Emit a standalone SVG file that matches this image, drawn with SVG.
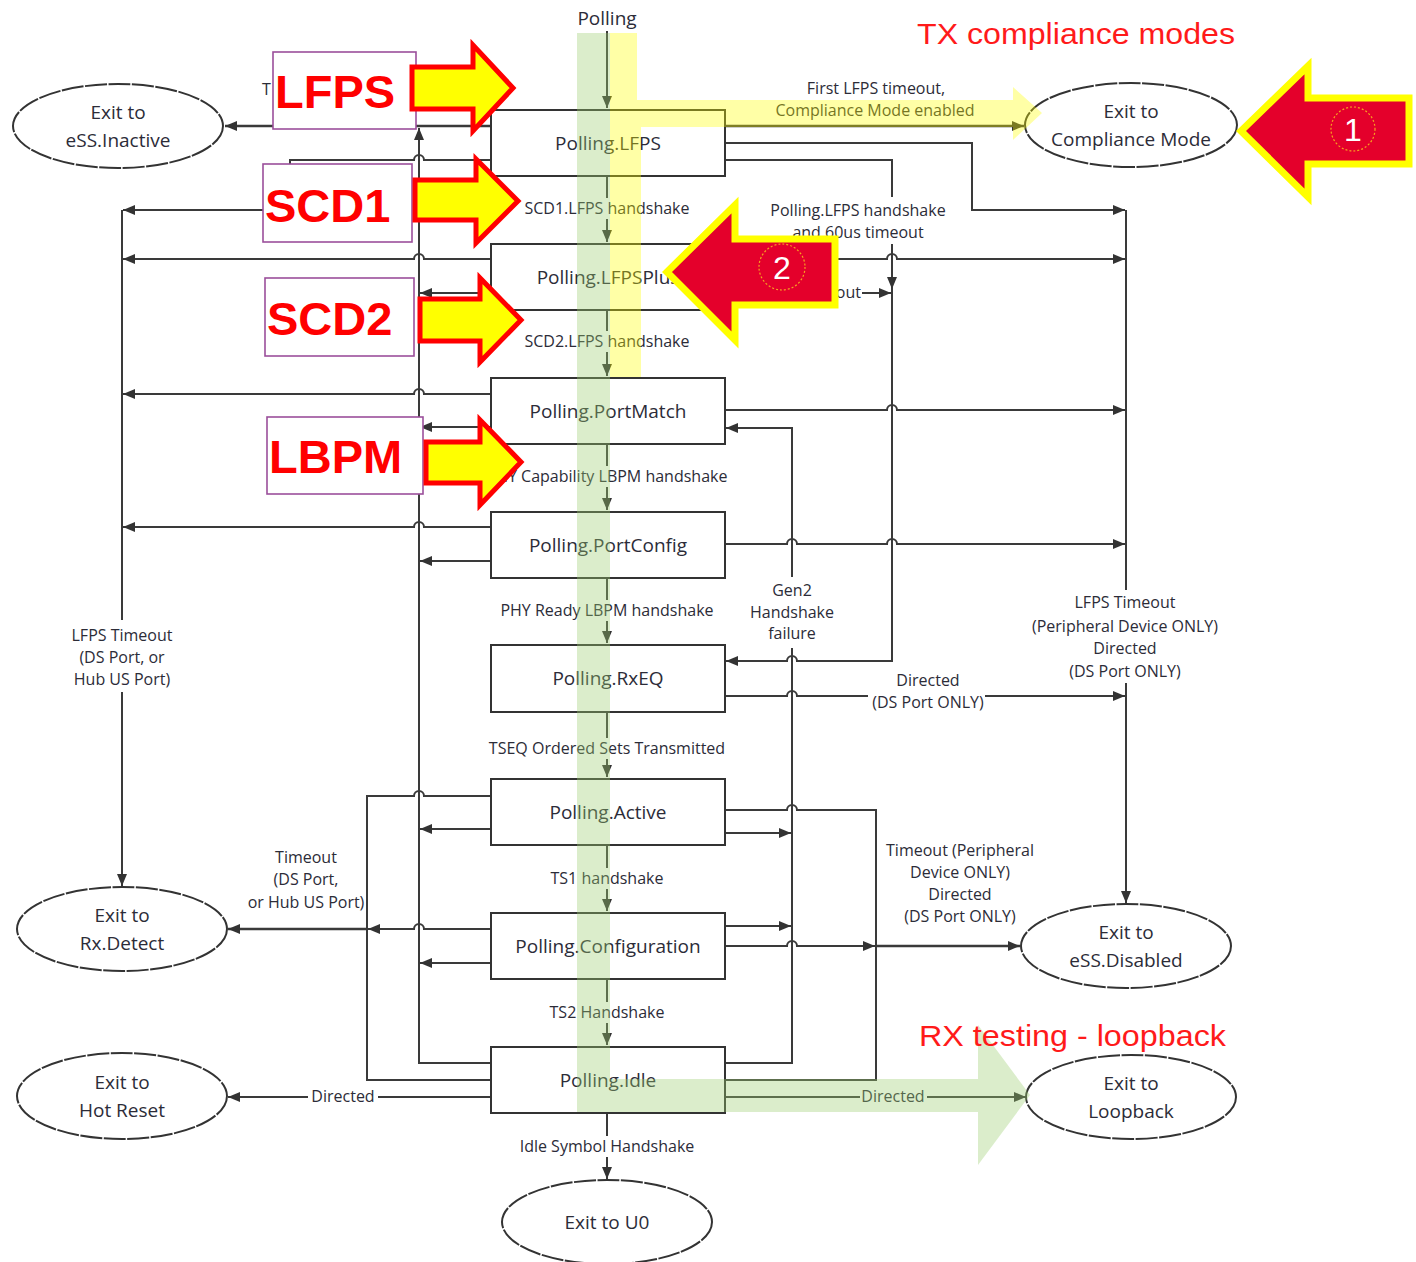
<svg xmlns="http://www.w3.org/2000/svg" width="1416" height="1262" viewBox="0 0 1416 1262">
<style>
.bx{fill:#fff;stroke:#333;stroke-width:2}
.el{fill:#fff;stroke:#333;stroke-width:2;stroke-dasharray:22 1.5}
.ln{fill:none;stroke:#3a3a3a;stroke-width:2}
.th{stroke-width:2.6}
.t{font-family:"Open Sans","Noto Sans",sans-serif;fill:#2c2c38;text-anchor:middle}
.nl{font-size:19px}
.sl{font-size:16px}
.red{font-family:"Liberation Sans",Arial,sans-serif;fill:#ff1a1a;font-size:29px}
.big{font-family:"Liberation Sans",Arial,sans-serif;font-weight:bold;fill:#ff0000;font-size:47px}
.lb{fill:#fff;stroke:#9b4f9b;stroke-width:1.6}
.ya{fill:#ffff00;stroke:#ff0000;stroke-width:5;stroke-linejoin:miter}
.ra{fill:#e4002b;stroke:#ffff00;stroke-width:7;stroke-linejoin:miter}
</style>
<defs>
<marker id="a" viewBox="0 0 12 10" refX="12" refY="5" markerWidth="12" markerHeight="10" markerUnits="userSpaceOnUse" orient="auto"><path d="M0,0 L12,5 L0,10 z" fill="#333"/></marker>
</defs>
<rect width="1416" height="1262" fill="#fff"/>

<g id="connectors">
<path class="ln" d="M607,31 V108" marker-end="url(#a)"/>
<path class="ln" d="M607,176 V198"/><path class="ln" d="M607,219 V242" marker-end="url(#a)"/>
<path class="ln" d="M607,310 V331"/><path class="ln" d="M607,352 V376" marker-end="url(#a)"/>
<path class="ln" d="M607,444 V466"/><path class="ln" d="M607,487 V510" marker-end="url(#a)"/>
<path class="ln" d="M607,578 V600"/><path class="ln" d="M607,621 V643" marker-end="url(#a)"/>
<path class="ln" d="M607,712 V738"/><path class="ln" d="M607,759 V777" marker-end="url(#a)"/>
<path class="ln" d="M607,845 V868"/><path class="ln" d="M607,889 V911" marker-end="url(#a)"/>
<path class="ln" d="M607,979 V1002"/><path class="ln" d="M607,1023 V1045" marker-end="url(#a)"/>
<path class="ln" d="M607,1113 V1136"/><path class="ln" d="M607,1157 V1179" marker-end="url(#a)"/>

<path class="ln th" d="M491,126 H225" marker-end="url(#a)"/>
<path class="ln" d="M491,1063 H419 V128" marker-end="url(#a)"/>
<path class="ln" d="M491,160 H424 A5,5 0 0 0 414,160 H290 V210 H123" marker-end="url(#a)"/>
<path class="ln" d="M122,210 V620"/>
<path class="ln" d="M122,692 V886" marker-end="url(#a)"/>
<path class="ln" d="M491,259 H424 A5,5 0 0 0 414,259 H123" marker-end="url(#a)"/>
<path class="ln" d="M491,394 H424 A5,5 0 0 0 414,394 H123" marker-end="url(#a)"/>
<path class="ln" d="M491,527 H424 A5,5 0 0 0 414,527 H123" marker-end="url(#a)"/>
<path class="ln" d="M491,293 H420" marker-end="url(#a)"/>
<path class="ln" d="M491,427 H420" marker-end="url(#a)"/>
<path class="ln" d="M491,561 H420" marker-end="url(#a)"/>
<path class="ln" d="M491,829 H420" marker-end="url(#a)"/>
<path class="ln" d="M491,963 H420" marker-end="url(#a)"/>
<path class="ln" d="M491,796 H424 A5,5 0 0 0 414,796 H367 V1080 H491"/>
<path class="ln" d="M491,929 H424 A5,5 0 0 0 414,929 H368" marker-end="url(#a)"/>
<path class="ln th" d="M367,929 H228" marker-end="url(#a)"/>
<path class="ln" d="M491,1097 H378"/>
<path class="ln" d="M308,1097 H228" marker-end="url(#a)"/>

<path class="ln th" d="M725,126 H1024" marker-end="url(#a)"/>
<path class="ln" d="M725,143 H972 V210 H1125" marker-end="url(#a)"/>
<path class="ln" d="M1126,210 V590"/>
<path class="ln" d="M1126,683 V903" marker-end="url(#a)"/>
<path class="ln" d="M725,160 H892 V197"/>
<path class="ln" d="M892,244 V289" marker-end="url(#a)"/>
<path class="ln" d="M892,289 V661 H797 A5,5 0 0 0 787,661 H726" marker-end="url(#a)"/>
<path class="ln" d="M862,293 H891" marker-end="url(#a)"/>
<path class="ln" d="M725,259 H887 A5,5 0 0 1 897,259 H1125" marker-end="url(#a)"/>
<path class="ln" d="M725,410 H887 A5,5 0 0 1 897,410 H1125" marker-end="url(#a)"/>
<path class="ln" d="M725,544 H787 A5,5 0 0 1 797,544 H887 A5,5 0 0 1 897,544 H1125" marker-end="url(#a)"/>
<path class="ln" d="M792,577 V428 H726" marker-end="url(#a)"/>
<path class="ln" d="M792,648 V1063 H725"/>
<path class="ln" d="M725,696 H787 A5,5 0 0 1 797,696 H868"/>
<path class="ln" d="M985,696 H1125" marker-end="url(#a)"/>
<path class="ln" d="M725,810 H787 A5,5 0 0 1 797,810 H876 V1080 H725"/>
<path class="ln" d="M725,833 H791" marker-end="url(#a)"/>
<path class="ln" d="M725,926 H791" marker-end="url(#a)"/>
<path class="ln" d="M725,946 H787 A5,5 0 0 1 797,946 H875" marker-end="url(#a)"/>
<path class="ln th" d="M876,946 H1020" marker-end="url(#a)"/>
<path class="ln" d="M725,1097 H860"/>
<path class="ln" d="M927,1097 H1026" marker-end="url(#a)"/>
</g>

<g id="edge-labels">
<text class="t sl" x="607" y="214">SCD1.LFPS handshake</text>
<text class="t sl" x="607" y="347">SCD2.LFPS handshake</text>
<text class="t sl" x="607" y="482">PHY Capability LBPM handshake</text>
<text class="t sl" x="607" y="616">PHY Ready LBPM handshake</text>
<text class="t sl" x="607" y="754">TSEQ Ordered Sets Transmitted</text>
<text class="t sl" x="607" y="884">TS1 handshake</text>
<text class="t sl" x="607" y="1018">TS2 Handshake</text>
<text class="t sl" x="607" y="1152">Idle Symbol Handshake</text>
<text class="t sl" x="876" y="94">First LFPS timeout,</text>
<text class="t sl" x="875" y="116">Compliance Mode enabled</text>
<text class="t sl" x="858" y="216">Polling.LFPS handshake</text>
<text class="t sl" x="858" y="238">and  60us timeout</text>
<text class="t sl" x="861" y="298" style="text-anchor:end">Timeout</text>
<text class="t sl" x="792" y="596">Gen2</text>
<text class="t sl" x="792" y="618">Handshake</text>
<text class="t sl" x="792" y="639">failure</text>
<text class="t sl" x="1125" y="608">LFPS Timeout</text>
<text class="t sl" x="1125" y="632">(Peripheral Device ONLY)</text>
<text class="t sl" x="1125" y="654">Directed</text>
<text class="t sl" x="1125" y="677">(DS Port ONLY)</text>
<text class="t sl" x="928" y="686">Directed</text>
<text class="t sl" x="928" y="708">(DS Port ONLY)</text>
<text class="t sl" x="960" y="856">Timeout (Peripheral</text>
<text class="t sl" x="960" y="878">Device ONLY)</text>
<text class="t sl" x="960" y="900">Directed</text>
<text class="t sl" x="960" y="922">(DS Port ONLY)</text>
<text class="t sl" x="122" y="641">LFPS Timeout</text>
<text class="t sl" x="122" y="663">(DS Port, or</text>
<text class="t sl" x="122" y="685">Hub US Port)</text>
<text class="t sl" x="306" y="863">Timeout</text>
<text class="t sl" x="306" y="885">(DS Port,</text>
<text class="t sl" x="306" y="908">or Hub US Port)</text>
<text class="t sl" x="343" y="1102">Directed</text>
<text class="t sl" x="893" y="1102">Directed</text>
<text class="t sl" x="262" y="95" style="text-anchor:start">T</text>
<text class="t nl" x="607" y="25">Polling</text>
</g>

<g id="n-lfps"><rect class="bx" x="491" y="110" width="234" height="66"/><text class="t nl" x="608" y="150">Polling.LFPS</text></g>
<g id="n-lfpsplus"><rect class="bx" x="491" y="244" width="234" height="66"/><text class="t nl" x="608" y="284">Polling.LFPSPlus</text></g>
<g id="n-portmatch"><rect class="bx" x="491" y="378" width="234" height="66"/><text class="t nl" x="608" y="418">Polling.PortMatch</text></g>
<g id="n-portconfig"><rect class="bx" x="491" y="512" width="234" height="66"/><text class="t nl" x="608" y="552">Polling.PortConfig</text></g>
<g id="n-rxeq"><rect class="bx" x="491" y="645" width="234" height="67"/><text class="t nl" x="608" y="685">Polling.RxEQ</text></g>
<g id="n-active"><rect class="bx" x="491" y="779" width="234" height="66"/><text class="t nl" x="608" y="819">Polling.Active</text></g>
<g id="n-config"><rect class="bx" x="491" y="913" width="234" height="66"/><text class="t nl" x="608" y="953">Polling.Configuration</text></g>
<g id="n-idle"><rect class="bx" x="491" y="1047" width="234" height="66"/><text class="t nl" x="608" y="1087">Polling.Idle</text></g>

<g id="e-inactive"><ellipse class="el" cx="118" cy="126" rx="105" ry="42"/><text class="t nl" x="118" y="119">Exit to</text><text class="t nl" x="118" y="147">eSS.Inactive</text></g>
<g id="e-compliance"><ellipse class="el" cx="1131" cy="125" rx="106" ry="42"/><text class="t nl" x="1131" y="118">Exit to</text><text class="t nl" x="1131" y="146">Compliance Mode</text></g>
<g id="e-rxdetect"><ellipse class="el" cx="122" cy="929" rx="105" ry="42"/><text class="t nl" x="122" y="922">Exit to</text><text class="t nl" x="122" y="950">Rx.Detect</text></g>
<g id="e-disabled"><ellipse class="el" cx="1126" cy="946" rx="105" ry="42"/><text class="t nl" x="1126" y="939">Exit to</text><text class="t nl" x="1126" y="967">eSS.Disabled</text></g>
<g id="e-hotreset"><ellipse class="el" cx="122" cy="1096" rx="105" ry="43"/><text class="t nl" x="122" y="1089">Exit to</text><text class="t nl" x="122" y="1117">Hot Reset</text></g>
<g id="e-loopback"><ellipse class="el" cx="1131" cy="1097" rx="105" ry="42"/><text class="t nl" x="1131" y="1090">Exit to</text><text class="t nl" x="1131" y="1118">Loopback</text></g>
<g id="e-u0"><ellipse class="el" cx="607" cy="1222" rx="105" ry="42"/><text class="t nl" x="607" y="1229">Exit to U0</text></g>

<g id="highlight-bands">
<polygon points="610,33 637,33 637,100 1013,100 1013,87 1042,113 1013,140 1013,127 641,127 641,377 610,377" fill="#ffff00" fill-opacity="0.35"/>
<polygon points="577,33 610,33 610,1079 978,1079 978,1025 1030,1095 978,1165 978,1112 577,1112" fill="#9acd6e" fill-opacity="0.36"/>
</g>

<g id="titles">
<text class="red" x="917" y="44" textLength="318" lengthAdjust="spacingAndGlyphs">TX compliance modes</text>
<text class="red" x="919" y="1046" textLength="307" lengthAdjust="spacingAndGlyphs">RX testing - loopback</text>
</g>

<g id="callout-lfps"><rect class="lb" x="273" y="52" width="143" height="77"/><polygon class="ya" points="412,67 473,67 473,45 513,88 473,131 473,109 412,109"/><text class="big" x="275" y="108">LFPS</text></g>
<g id="callout-scd1"><rect class="lb" x="263" y="164" width="149" height="78"/><polygon class="ya" points="415,180 476,180 476,159 518,201 476,243 476,220 415,220"/><text class="big" x="265" y="222">SCD1</text></g>
<g id="callout-scd2"><rect class="lb" x="265" y="278" width="149" height="78"/><polygon class="ya" points="420,299 480,299 480,278 521,320 480,362 480,341 420,341"/><text class="big" x="267" y="335">SCD2</text></g>
<g id="callout-lbpm"><rect class="lb" x="267" y="417" width="156" height="77"/><polygon class="ya" points="426,442 480,442 480,420 521,462 480,505 480,483 426,483"/><text class="big" x="269" y="473">LBPM</text></g>

<g id="marker-1"><polygon class="ra" points="1241,131 1308,66 1308,98 1409,98 1409,164 1308,164 1308,197"/><circle cx="1353" cy="129" r="22" fill="none" stroke="#f7a020" stroke-width="1.2" stroke-dasharray="2 2"/><text x="1353" y="141" font-family="Liberation Sans,Arial,sans-serif" font-size="32" fill="#fff" text-anchor="middle">1</text></g>
<g id="marker-2"><polygon class="ra" points="667,272 735,205 735,239 835,239 835,305 735,305 735,340"/><circle cx="782" cy="267" r="23" fill="none" stroke="#f7a020" stroke-width="1.2" stroke-dasharray="2 2"/><text x="782" y="279" font-family="Liberation Sans,Arial,sans-serif" font-size="32" fill="#fff" text-anchor="middle">2</text></g>
</svg>
